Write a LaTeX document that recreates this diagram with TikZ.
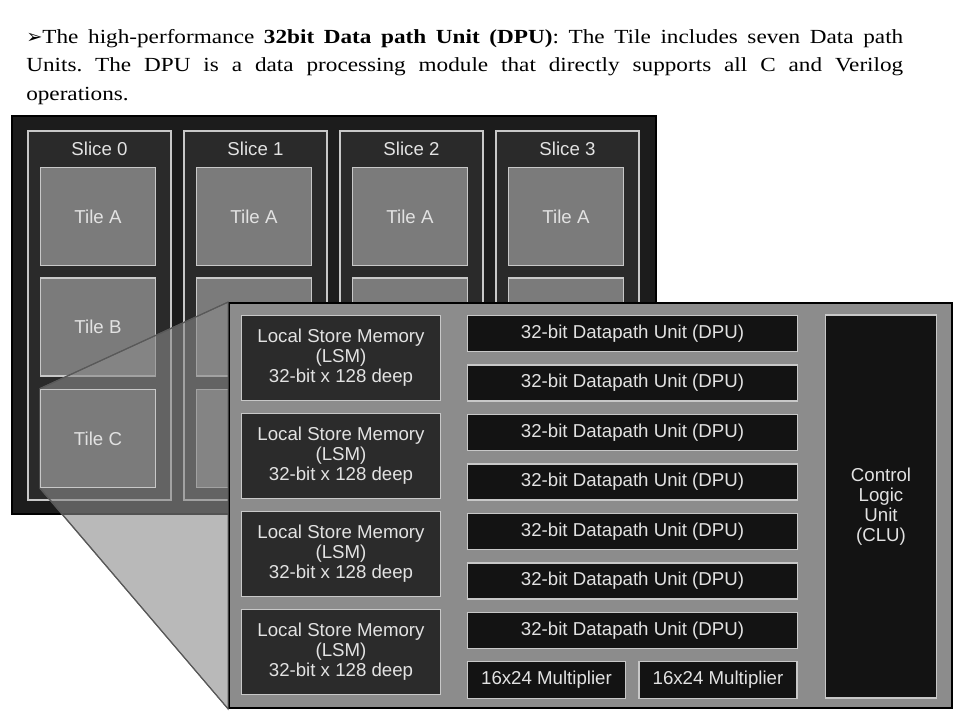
\documentclass[tikz,border=0pt]{standalone}
\usepackage{fontspec}
\setmainfont{Liberation Serif}[FakeStretch=1.16]
\newfontfamily\diafont{Liberation Sans}
\newfontfamily\symfont{DejaVu Sans}
\usepackage{tikz}
\usetikzlibrary{positioning}

\definecolor{chipfill}{HTML}{1C1C1C}
\definecolor{slicefill}{HTML}{2A2A2A}
\definecolor{tilefill}{HTML}{7B7B7B}
\definecolor{edgegray}{HTML}{C8C8C8}
\definecolor{labelgray}{HTML}{E2E2E2}
\definecolor{zoomfill}{HTML}{8C8C8C}
\definecolor{lsmfill}{HTML}{2B2B2B}
\definecolor{unitfill}{HTML}{131313}
\definecolor{wedgefill}{HTML}{8A8A8A}

\tikzset{
  diatext/.style={font=\diafont\fontsize{14}{15}\selectfont, text=labelgray, align=center},
  slicebox/.style={draw=edgegray, fill=slicefill, line width=1.2pt},
  tile/.style={diatext, draw=edgegray, fill=tilefill, line width=1.2pt, inner sep=0pt,
    minimum width=86pt, minimum height=73.5pt},
  zoombox/.style={draw=black, fill=zoomfill, line width=1.6pt, inner sep=0pt,
    minimum width=542pt, minimum height=303.5pt},
  lsm/.style={diatext, draw=edgegray, fill=lsmfill, line width=1.2pt, inner sep=0pt,
    minimum width=149pt, minimum height=63.5pt},
  dpu/.style={diatext, draw=edgegray, fill=unitfill, line width=1.2pt, inner sep=0pt,
    minimum width=247.5pt, minimum height=27pt},
  mult/.style={dpu, minimum width=118.5pt, minimum height=27.5pt},
  wedge/.style={fill=wedgefill, fill opacity=0.6, draw=black!65, line width=0.8pt}
}

\begin{document}
\begin{tikzpicture}[x=0.75pt, y=-0.75pt]
  \useasboundingbox (0,0) rectangle (960,720);

  \node[anchor=north west, inner sep=0pt, text width=657.75pt, align=justify,
        font=\fontsize{15}{21.4}\selectfont] (intro) at (26,29)
    {\tolerance=10000\frenchspacing{\symfont\fontsize{14.5}{14.5}\selectfont ➢}The high-performance
     \textbf{32bit Data path Unit (DPU)}: The Tile includes seven Data path\linebreak
     Units. The DPU is a data processing module that directly supports all C and Verilog\linebreak
     operations.};

  \draw[draw=black, fill=chipfill, line width=1pt] (12,116) rectangle (656,514);
  \foreach \i in {0,...,3} {
    \draw[slicebox] ({28+156*\i},131) rectangle ({171+156*\i},500);
    \node[diatext] (slice\i) at ({99.5+156*\i},149) {Slice \i};
    \node[tile] (tileA\i) at ({98+156*\i},216.5) {Tile A};
  }
  \node[tile] (tileB0) at (98,327) {Tile B};
  \foreach \i in {1,...,3} {
    \node[tile] (tileB\i) at ({98+156*\i},327) {};
    \node[tile] (tileC\i) at ({98+156*\i},438.5) {};
  }

  \node[zoombox] (zoom) at (590.5,505.5) {};
  \path[wedge] (40,388.5) -- (zoom.north west) -- (zoom.south west)
    -- (40,488) -- cycle;
  \node[tile] (tileC0) at (98,438.5) {Tile C};
  \draw[draw=black!65, line width=0.8pt] (tileC0.north west) -- (zoom.north west);
  \draw[draw=black!65, line width=0.8pt] (tileC0.south west) -- (zoom.south west);

  \foreach \k in {0,...,3}
    \node[lsm] (lsm\k) at (341,{358+98*\k}) {Local Store Memory\\(LSM)\\32-bit x 128 deep};
  \foreach \k in {0,...,6}
    \node[dpu] (dpu\k) at (632.5,{333.5+49.5*\k}) {32-bit Datapath Unit (DPU)};
  \node[mult] (mult0) at (546.5,680) {16x24 Multiplier};
  \node[mult] (mult1) at (718,680) {16x24 Multiplier};
  \node[dpu, minimum width=83.5pt, minimum height=287pt] (clu) at (881,506.5)
    {Control\\Logic\\Unit\\(CLU)};
\end{tikzpicture}
\end{document}
